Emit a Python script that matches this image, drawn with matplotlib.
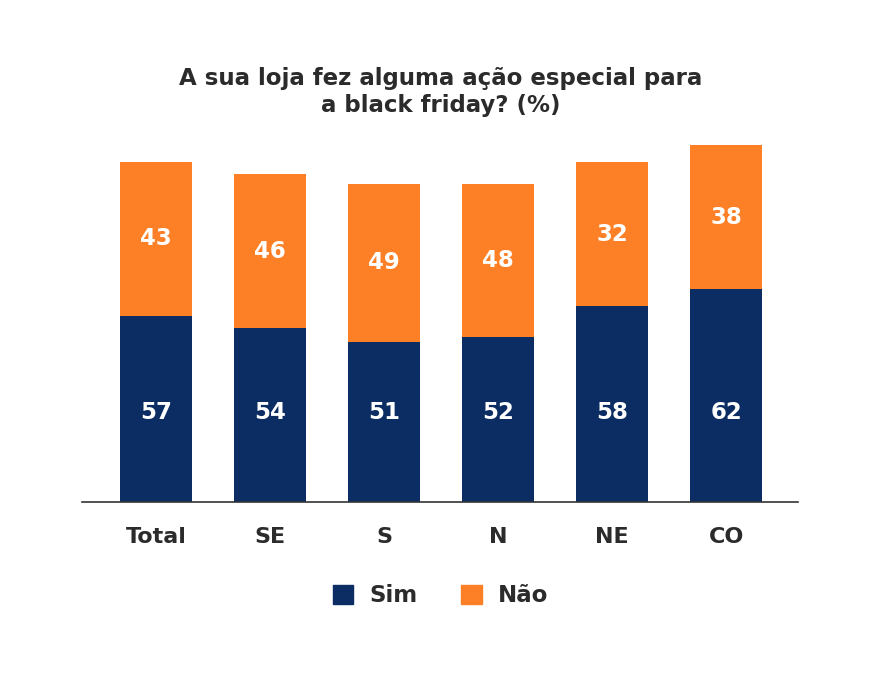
import matplotlib
matplotlib.use("Agg")
import matplotlib.pyplot as plt
from matplotlib.patches import Patch

plt.rcParams["font.family"] = ["DejaVu Sans"]

# Data
regions = ["Total", "SE", "S", "N", "NE", "CO"]
sim_labels = [57, 54, 51, 52, 58, 62]
nao_labels = [43, 46, 49, 48, 32, 38]
# bar lengths as drawn in the original (not normalised to 100)
sim_height = [56.4, 52.7, 48.5, 50.0, 59.4, 64.5]
nao_height = [46.7, 46.7, 47.9, 46.4, 43.6, 43.6]

navy = "#0b2d63"
orange = "#fd7f26"
dark = "#2b2b2b"

fig = plt.figure(figsize=(8.81, 6.76), dpi=100)
ax = fig.add_axes([82 / 881, 174 / 676, 716 / 881, 363 / 676])

x = list(range(len(regions)))
ax.bar(x, sim_height, width=0.632, color=navy)
ax.bar(x, nao_height, width=0.632, bottom=sim_height, color=orange)

for i in x:
    ax.text(i, 27, str(sim_labels[i]), ha="center", va="center",
            color="white", fontsize=16.5, fontweight="bold")
    ax.text(i, sim_height[i] + nao_height[i] / 2, str(nao_labels[i]),
            ha="center", va="center", color="white", fontsize=16.5,
            fontweight="bold")

ax.set_xlim(-0.65, 5.63)
ax.set_ylim(0, 110)
ax.set_xticks(x)
ax.set_xticklabels(regions, fontsize=16, fontweight="bold", color=dark)
ax.tick_params(axis="x", length=0, pad=18)
ax.set_yticks([])
for s in ["top", "right", "left"]:
    ax.spines[s].set_visible(False)
ax.spines["bottom"].set_color("#333333")
ax.spines["bottom"].set_linewidth(1.2)

fig.text(0.5, 1 - 85 / 676, "A sua loja fez alguma ação especial para",
         ha="center", va="baseline", fontsize=16.5, fontweight="bold", color=dark)
fig.text(0.5, 1 - 112 / 676, "a black friday? (%)",
         ha="center", va="baseline", fontsize=16.5, fontweight="bold", color=dark)

handles = [Patch(color=navy, label="Sim"), Patch(color=orange, label="Não")]
leg = fig.legend(handles=handles, loc="center", bbox_to_anchor=(0.5, 1 - 596 / 676),
                 ncol=2, frameon=False, handlelength=0.9, handleheight=0.9,
                 columnspacing=1.9, handletextpad=0.7,
                 prop={"size": 16.5, "weight": "bold"})
for t in leg.get_texts():
    t.set_color(dark)

fig.savefig("out.png", dpi=100)
